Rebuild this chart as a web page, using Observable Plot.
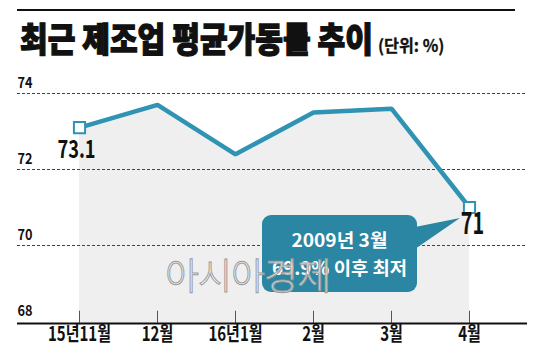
<!DOCTYPE html>
<html>
<head>
<meta charset="utf-8">
<script src="https://cdn.jsdelivr.net/npm/d3@7"></script>
<script src="https://cdn.jsdelivr.net/npm/@observablehq/plot@0.6"></script>
<style>
  html, body { margin: 0; padding: 0; background: #fff; }
  body { width: 535px; height: 355px; overflow: hidden; position: relative;
         font-family: "Noto Sans CJK KR", "Noto Sans", sans-serif; color: #111; }
  #topRule { position: absolute; left: 17px; top: 9px; width: 498px; height: 2px; background: #111; }
  #title { position: absolute; left: 20px; top: 21px; font-size: 34px; line-height: 34px; font-weight: 900;
           white-space: nowrap; transform: scaleX(0.885); transform-origin: 0 0; color: #111;
           -webkit-text-stroke: 1.3px #111; }
  #unit { position: absolute; left: 378px; top: 36px; font-size: 17px; line-height: 17px; font-weight: 700;
          white-space: nowrap; transform: scaleX(0.95); transform-origin: 0 0; color: #111;
          -webkit-text-stroke: 0.3px #111; }
  #chart { position: absolute; left: 0; top: 70px; }
  #watermark { position: absolute; left: 165px; top: 254px; font-size: 37px; line-height: 40px; font-weight: 300;
               white-space: nowrap; color: rgba(255,255,255,0.75); -webkit-text-stroke: 1px #9a9a9a;
               letter-spacing: -1px; pointer-events: none; }
</style>
</head>
<body>
<div id="topRule"></div>
<div id="title"></div>
<div id="unit"></div>
<div id="chart"></div>
<div id="watermark"></div>
<script>
// ---- data ----
const titleText = "최근 제조업 평균가동률 추이";
const unitText = "(단위: %)";
const months = ["15년11월", "12월", "16년1월", "2월", "3월", "4월"];
const rates = [73.1, 73.7, 72.4, 73.5, 73.6, 71.0];
const yTicks = [68, 70, 72, 74];
const valueLabels = ["73.1", "", "", "", "", "71"];
const calloutLines = ["2009년 3월", "69.9% 이후 최저"];
const watermarkText = "아시아경제";

document.getElementById("title").textContent = titleText;
document.getElementById("unit").textContent = unitText;
document.getElementById("watermark").textContent = watermarkText;

const data = months.map((m, i) => ({ month: m, value: rates[i], label: valueLabels[i] }));
const ends = data.filter(d => d.label !== "");
const last = data[data.length - 1];
const baseValue = 67.95;

const teal = "#2f93b3";
const boxTeal = "#2a86a3";
const font = "'Noto Sans CJK KR', 'Noto Sans', sans-serif";

function callout(index, scales) {
  const px = scales.x(last.month), py = scales.y(last.value);
  const g = d3.create("svg:g");
  const x0 = px - 207, x1 = px - 52, y0 = py + 8, y1 = py + 85;
  g.append("path")
    .attr("d", `M${x1 - 2},${y0 + 12} L${px - 9},${py + 11} L${x1 - 2},${y0 + 34} Z`)
    .attr("fill", boxTeal);
  g.append("rect")
    .attr("x", x0).attr("y", y0).attr("width", x1 - x0).attr("height", y1 - y0)
    .attr("rx", 9).attr("fill", boxTeal);
  const cx = (x0 + x1) / 2;
  const widths = [96, 135];
  calloutLines.forEach((t, i) => {
    g.append("text")
      .attr("x", cx).attr("y", y0 + 27 + i * 28)
      .attr("text-anchor", "middle").attr("dominant-baseline", "middle")
      .attr("fill", "#fff").attr("font-size", 18).attr("font-weight", 700)
      .attr("font-family", font)
      .attr("data-len", widths[i])
      .text(t);
  });
  return g.node();
}

const plot = Plot.plot({
  width: 535,
  height: 285,
  marginLeft: 17,
  marginRight: 8,
  marginTop: 23,
  marginBottom: 34,
  x: { type: "point", domain: months, range: [77, 470], padding: 0, axis: null },
  y: { domain: [68, 74], axis: null },
  style: { fontFamily: font, background: "transparent", overflow: "visible" },
  marks: [
    Plot.areaY(data, { x: "month", y1: () => baseValue, y2: "value", fill: "#efefef" }),
    Plot.ruleY(yTicks.filter(t => t > 68), { stroke: "#444", strokeWidth: 1, strokeDasharray: "3,2" }),
    Plot.text(yTicks, { y: d => d, text: d => String(d), frameAnchor: "left", textAnchor: "start",
      dy: -10, fontSize: 15, fontWeight: 700, fill: "#111" }),
    Plot.ruleX(months, { x: d => d, y1: () => baseValue, y2: () => 68.27, stroke: "#555", strokeWidth: 1 }),
    Plot.ruleY([baseValue], { stroke: "#111", strokeWidth: 2 }),
    Plot.text(months, { x: d => d, text: d => d, frameAnchor: "bottom", dy: 19,
      fontSize: 20, fontWeight: 700, fill: "#111" }),
    Plot.line(data, { x: "month", y: "value", stroke: teal, strokeWidth: 4.5, strokeLinejoin: "miter" }),
    Plot.dot(ends, { x: "month", y: "value", symbol: "square", r: 6.3, fill: "#fff", stroke: teal, strokeWidth: 2 }),
    Plot.text(ends.slice(0, 1), { x: "month", y: "value", text: "label", dx: -3, dy: 22,
      fontSize: 25, fontWeight: 700, fill: "#111" }),
    callout,
    Plot.text(ends.slice(1), { x: "month", y: "value", text: "label", dx: 3, dy: 17,
      fontSize: 30, fontWeight: 700, fill: "#111" })
  ]
});
document.getElementById("chart").appendChild(plot);

// condense text like the reference's narrow typeface
const factors = {};
months.forEach(m => factors[m] = 0.75);
yTicks.forEach(t => factors[String(t)] = 0.85);
factors["73.1"] = 0.73;
factors["71"] = 0.66;
plot.querySelectorAll("text").forEach(el => {
  const t = el.textContent;
  const fixed = el.getAttribute("data-len");
  if (fixed) {
    el.setAttribute("textLength", fixed);
    el.setAttribute("lengthAdjust", "spacingAndGlyphs");
  } else if (factors[t]) {
    const len = el.getComputedTextLength();
    el.setAttribute("textLength", (len * factors[t]).toFixed(1));
    el.setAttribute("lengthAdjust", "spacingAndGlyphs");
  }
});
</script>
</body>
</html>
